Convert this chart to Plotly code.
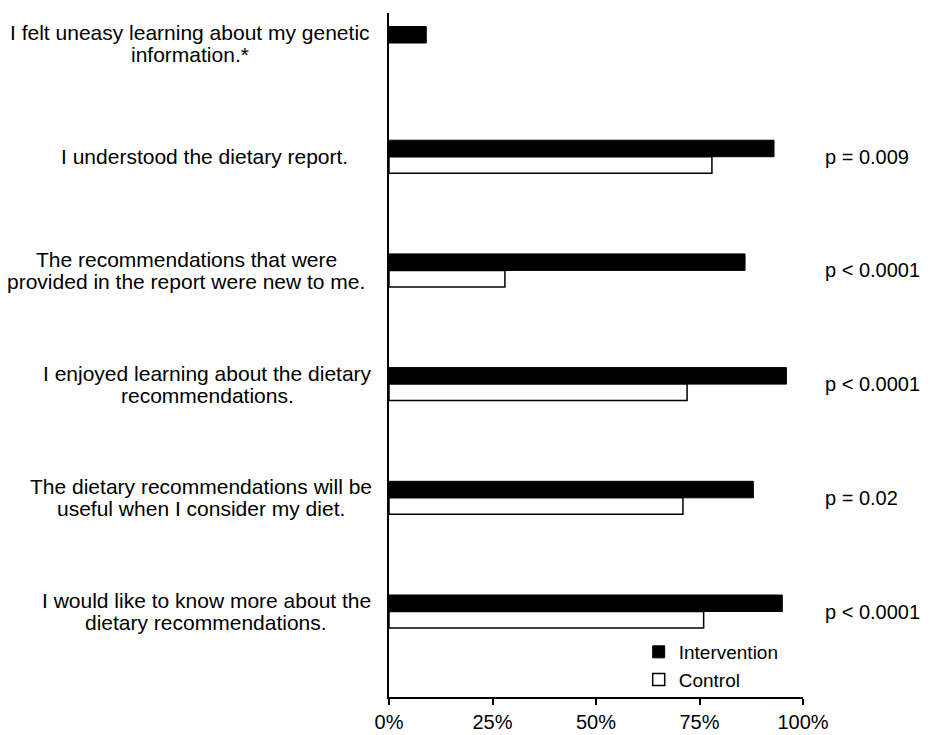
import plotly.graph_objects as go

categories = [
    "I felt uneasy learning about my genetic<br>information.*",
    "I understood the dietary report.",
    "The recommendations that were<br>provided in the report were new to me.",
    "I enjoyed learning about the dietary<br>recommendations.",
    "The dietary recommendations will be<br>useful when I consider my diet.",
    "I would like to know more about the<br>dietary recommendations.",
]
intervention = [9, 93, 86, 96, 88, 95]
control = [None, 78, 28, 72, 71, 76]
p_values = [None, "p = 0.009", "p < 0.0001", "p < 0.0001", "p = 0.02", "p < 0.0001"]
x_ticks = [0, 25, 50, 75, 100]

# page body has an 8px margin; figure coordinates = screen - 8
W, H = 924, 727
PL, PR, PT, PB = 381, 795.5, 5, 689
L, R, T, B = PL, W - PR, PT, H - PB
plot_w = PR - PL
plot_h = PB - PT

FONT = "Liberation Sans, Arial, sans-serif"
FS = 20
LABEL_FS = 21
LINE = 22
# horizontal centre (figure px) of each category label block
LABEL_CX = [182, 196, 178, 199, 193, 198]

fig = go.Figure()
fig.add_trace(go.Bar(
    y=categories, x=intervention, orientation="h", name="Intervention",
    marker=dict(color="black", line=dict(color="black", width=1)),
))
fig.add_trace(go.Bar(
    y=categories, x=control, orientation="h", name="Control",
    marker=dict(color="white", line=dict(color="black", width=1.5)),
))

def px_to_paper_x(px):
    return (px - PL) / plot_w

annotations = []
for cat, cx in zip(categories, LABEL_CX):
    lines = cat.split("<br>")
    n = len(lines)
    for k, line in enumerate(lines):
        annotations.append(dict(
            x=px_to_paper_x(cx), xref="paper", y=cat, yref="y",
            text=line, showarrow=False, xanchor="center", yanchor="middle",
            font=dict(family=FONT, size=LABEL_FS, color="black"),
            yshift=((n - 1) / 2 - k) * LINE,
        ))

for cat, p in zip(categories, p_values):
    if p:
        annotations.append(dict(
            x=px_to_paper_x(816), xref="paper", y=cat, yref="y",
            text=p, showarrow=False, xanchor="left", yanchor="middle",
            font=dict(family=FONT, size=FS, color="black"),
        ))

fig.update_layout(
    width=W, height=H,
    margin=dict(l=L, r=R, t=T, b=B, pad=0),
    paper_bgcolor="white", plot_bgcolor="white",
    barmode="group", bargap=0.71, bargroupgap=0,
    font=dict(family=FONT, size=FS, color="black"),
    showlegend=True,
    legend=dict(
        x=px_to_paper_x(631), y=(PB - 625) / plot_h, xanchor="left", yanchor="top",
        bgcolor="rgba(0,0,0,0)", font=dict(family=FONT, size=19, color="black"),
        tracegroupgap=0,
    ),
    annotations=annotations,
    xaxis=dict(
        range=[0, 100], tickvals=x_ticks, ticktext=[f"{v}%" for v in x_ticks],
        showgrid=False, zeroline=False, showline=True, linecolor="black", linewidth=1.5,
        ticks="outside", ticklen=6, tickcolor="black", tickwidth=1.5,
        tickfont=dict(family=FONT, size=FS, color="black"), automargin=False,
        fixedrange=True,
    ),
    yaxis=dict(
        type="category", range=[5.752, -0.264], showticklabels=False,
        showgrid=False, zeroline=False, showline=True, linecolor="black", linewidth=1.5,
        ticks="", automargin=False, fixedrange=True,
    ),
)

fig.write_html("out.html")
